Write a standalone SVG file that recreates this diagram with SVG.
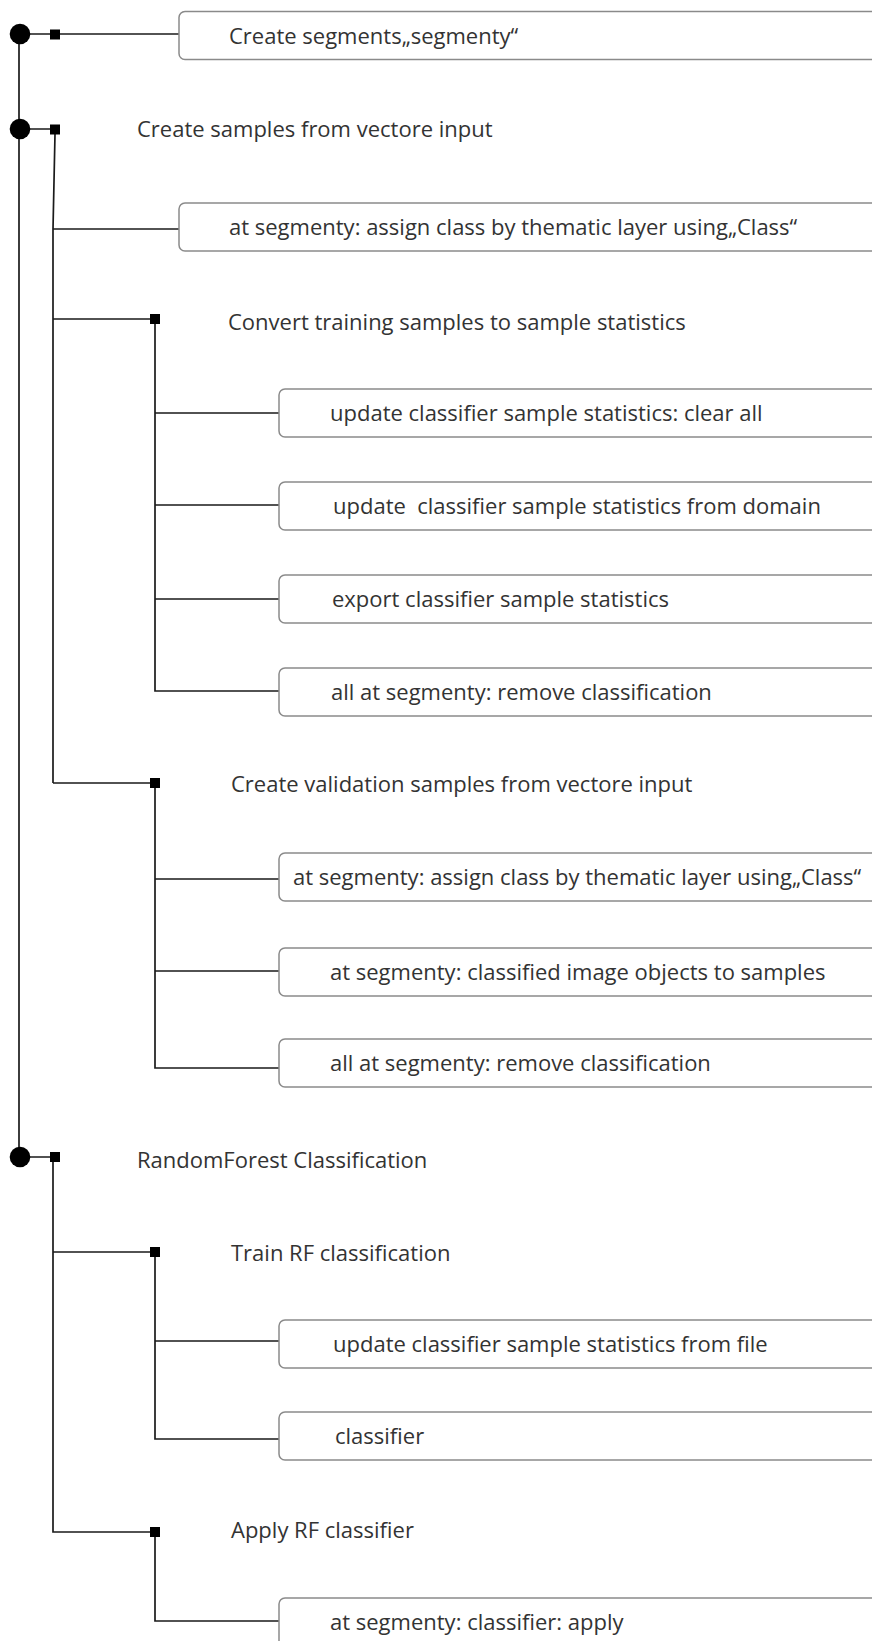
<svg xmlns="http://www.w3.org/2000/svg" width="872" height="1641" viewBox="0 0 872 1641">
<style>
.box{fill:#fff;stroke:#8a8a8a;stroke-width:1.5}
.t{font-family:"Open Sans","Noto Sans",sans-serif;font-size:22px;fill:#333}
.c{fill:none;stroke:#1a1a1a;stroke-width:1.7}
.dot{fill:#000}
.sq{fill:#000}
</style>
<rect width="872" height="1641" fill="#fff"/>
<g id="connectors">
<path class="c" d="M19,34 V1157"/>
<path class="c" d="M20,34 H179"/>
<path class="c" d="M20,129 H55 M55,134 L53,229 V783"/>
<path class="c" d="M53,229 H179"/>
<path class="c" d="M53,319 H155 V691 H279 M155,413 H279 M155,505 H279 M155,599 H279"/>
<path class="c" d="M53,783 H155 V1068 H279 M155,879 H279 M155,971 H279"/>
<path class="c" d="M20,1157 H55 M53,1157 V1532 H155"/>
<path class="c" d="M53,1252 H155 V1439 H279 M155,1341 H279"/>
<path class="c" d="M155,1532 V1621 H279"/>
<circle class="dot" cx="20" cy="34" r="10.3"/>
<circle class="dot" cx="20" cy="129" r="10.3"/>
<circle class="dot" cx="20" cy="1157" r="10.3"/>
<rect class="sq" x="50" y="29.5" width="10" height="10"/>
<rect class="sq" x="50" y="124.5" width="10" height="10"/>
<rect class="sq" x="50" y="1152" width="10" height="10"/>
<rect class="sq" x="150" y="314" width="10" height="10"/>
<rect class="sq" x="150" y="778" width="10" height="10"/>
<rect class="sq" x="150" y="1247" width="10" height="10"/>
<rect class="sq" x="150" y="1527" width="10" height="10"/>
</g>
<g id="n-create-segments"><rect class="box" x="179" y="11.5" width="720" height="48" rx="6"/><text class="t" x="229" y="43.5">Create segments„segmenty“</text></g>
<g id="n-create-samples"><text class="t" x="137" y="137">Create samples from vectore input</text></g>
<g id="n-assign-class"><rect class="box" x="179" y="203" width="720" height="48" rx="6"/><text class="t" x="229" y="235">at segmenty: assign class by thematic layer using„Class“</text></g>
<g id="n-convert"><text class="t" x="228" y="330">Convert training samples to sample statistics</text></g>
<g id="n-clear-all"><rect class="box" x="279" y="389" width="620" height="48" rx="6"/><text class="t" x="330" y="421">update classifier sample statistics: clear all</text></g>
<g id="n-from-domain"><rect class="box" x="279" y="482" width="620" height="48" rx="6"/><text class="t" x="333" y="514" xml:space="preserve">update  classifier sample statistics from domain</text></g>
<g id="n-export"><rect class="box" x="279" y="575" width="620" height="48" rx="6"/><text class="t" x="332" y="607">export classifier sample statistics</text></g>
<g id="n-remove1"><rect class="box" x="279" y="668" width="620" height="48" rx="6"/><text class="t" x="331" y="700">all at segmenty: remove classification</text></g>
<g id="n-create-validation"><text class="t" x="231" y="792">Create validation samples from vectore input</text></g>
<g id="n-assign-class2"><rect class="box" x="279" y="853" width="620" height="48" rx="6"/><text class="t" x="293" y="885">at segmenty: assign class by thematic layer using„Class“</text></g>
<g id="n-to-samples"><rect class="box" x="279" y="948" width="620" height="48" rx="6"/><text class="t" x="330" y="980">at segmenty: classified image objects to samples</text></g>
<g id="n-remove2"><rect class="box" x="279" y="1039" width="620" height="48" rx="6"/><text class="t" x="330" y="1071">all at segmenty: remove classification</text></g>
<g id="n-rf"><text class="t" x="137" y="1168">RandomForest Classification</text></g>
<g id="n-train"><text class="t" x="231" y="1261">Train RF classification</text></g>
<g id="n-from-file"><rect class="box" x="279" y="1320" width="620" height="48" rx="6"/><text class="t" x="333" y="1352">update classifier sample statistics from file</text></g>
<g id="n-classifier"><rect class="box" x="279" y="1412" width="620" height="48" rx="6"/><text class="t" x="335" y="1444">classifier</text></g>
<g id="n-apply"><text class="t" x="231" y="1538">Apply RF classifier</text></g>
<g id="n-apply-box"><rect class="box" x="279" y="1598" width="620" height="60" rx="6"/><text class="t" x="330" y="1630">at segmenty: classifier: apply</text></g>
</svg>
